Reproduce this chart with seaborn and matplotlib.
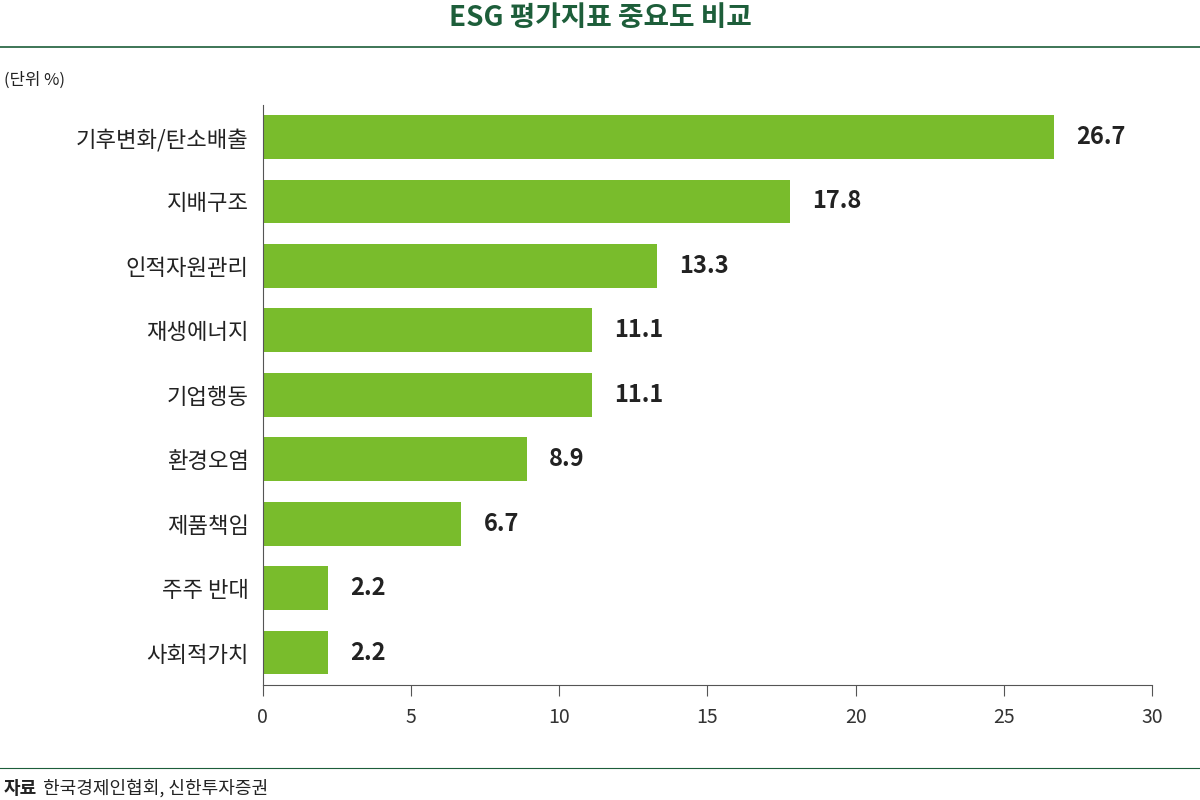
import matplotlib.pyplot as plt
import seaborn as sns
import pandas as pd

# ── Data ─────────────────────────────────────────
categories = ["기후변화/탄소배출", "지배구조", "인적자원관리", "재생에너지", "기업행동",
              "환경오염", "제품책임", "주주 반대", "사회적가치"]
values = [26.7, 17.8, 13.3, 11.1, 11.1, 8.9, 6.7, 2.2, 2.2]
xticks = [0, 5, 10, 15, 20, 25, 30]

BAR = "#79BC2C"
GREEN = "#1D5E3A"
TEXT = "#222222"

plt.rcParams["font.family"] = ["Noto Sans CJK KR", "Noto Sans CJK JP", "Noto Sans CJK SC", "DejaVu Sans"]
df = pd.DataFrame({"cat": categories, "val": values})

fig = plt.figure(figsize=(12, 8), dpi=100)
ax = fig.add_axes([0.219, 0.144, 0.741, 0.725])
sns.barplot(data=df, x="val", y="cat", color=BAR, width=0.68, ax=ax, saturation=1)
plt.rcParams["font.family"] = ["Noto Sans CJK KR", "Noto Sans CJK JP", "Noto Sans CJK SC", "DejaVu Sans"]

for i, v in enumerate(values):
    ax.text(v + 0.75, i, f"{v:.1f}", va="center", ha="left", fontsize=17,
            fontweight="bold", color=TEXT)

ax.set_xlim(0, 30)
ax.set_ylim(8.5, -0.5)
ax.set_xticks(xticks)
ax.set_xticklabels([str(t) for t in xticks], fontsize=14, color="#333333")
ax.set_yticklabels(categories, fontsize=16, color=TEXT)
ax.tick_params(axis="y", length=0, pad=10)
ax.tick_params(axis="x", length=8, direction="out", color="#555555", pad=8)
ax.set_xlabel("")
ax.set_ylabel("")
for s in ["top", "right"]:
    ax.spines[s].set_visible(False)
for s in ["left", "bottom"]:
    ax.spines[s].set_color("#555555")
    ax.spines[s].set_linewidth(0.8)

fig.text(0.5, 0.977, "ESG 평가지표 중요도 비교", ha="center", va="center",
         fontsize=20, fontweight="bold", color=GREEN)
fig.add_artist(plt.Line2D([0, 1], [0.941, 0.941], color=GREEN, lw=1.2))
fig.text(0.003, 0.9, "(단위 %)", ha="left", va="center", fontsize=12, color=TEXT)
fig.add_artist(plt.Line2D([0, 1], [0.04, 0.04], color=GREEN, lw=0.8))
fig.text(0.003, 0.014, "자료", ha="left", va="center", fontsize=13,
         fontweight="bold", color=TEXT)
fig.text(0.036, 0.014, "한국경제인협회, 신한투자증권", ha="left", va="center",
         fontsize=13, color=TEXT)

fig.savefig("out.png", dpi=100, facecolor="white")
